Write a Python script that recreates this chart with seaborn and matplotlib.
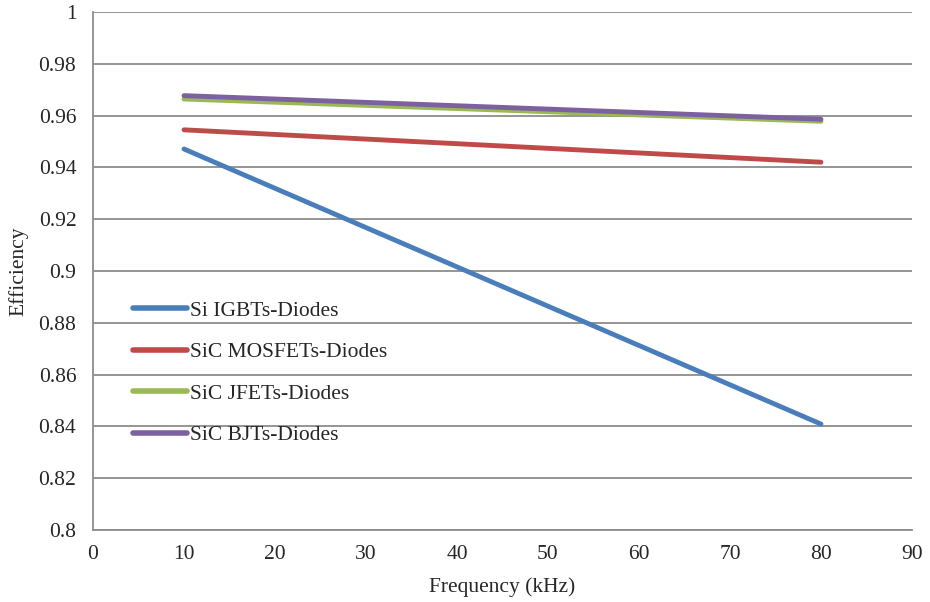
import pandas as pd
import matplotlib
matplotlib.use("Agg")
import matplotlib.pyplot as plt
import seaborn as sns

# data
freq = [10, 80]
si_igbt = [0.9471, 0.8409]
sic_mosfet = [0.9545, 0.9420]
sic_jfet = [0.9664, 0.9578]
sic_bjt = [0.9677, 0.9586]

series_names = ["Si IGBTs-Diodes", "SiC MOSFETs-Diodes", "SiC JFETs-Diodes", "SiC BJTs-Diodes"]
series_vals = [si_igbt, sic_mosfet, sic_jfet, sic_bjt]
colors = ["#4a7ebb", "#be4b48", "#98b954", "#7d60a0"]

rows = []
for name, vals in zip(series_names, series_vals):
    for f, v in zip(freq, vals):
        rows.append({"Frequency": f, "Efficiency": v, "Series": name})
df = pd.DataFrame(rows)

sns.set_style("white")
plt.rcParams["font.family"] = ["Liberation Serif", "DejaVu Serif"]
fs = 15.5

fig = plt.figure(figsize=(9.3, 6.02), dpi=100)
ax = fig.add_axes([0.1, 0.1196, 0.8806, 0.8605])

sns.lineplot(data=df, x="Frequency", y="Efficiency", hue="Series",
             hue_order=series_names, palette=colors, linewidth=3.5,
             solid_capstyle="round", ax=ax)

ax.set_xlim(0, 90)
ax.set_ylim(0.8, 1.0)
ax.set_xticks(range(0, 91, 10))
ax.set_yticks([0.8 + 0.02 * i for i in range(11)])
ax.set_yticklabels(["0.8", "0.82", "0.84", "0.86", "0.88", "0.9",
                    "0.92", "0.94", "0.96", "0.98", "1"])
ax.tick_params(axis="y", length=0, labelsize=fs, pad=12)
ax.tick_params(axis="x", length=0, labelsize=fs, pad=11)
ax.yaxis.grid(True, color="#8c8c8c", linewidth=1.3)
ax.xaxis.grid(False)
ax.set_axisbelow(True)

for side in ["top", "right"]:
    ax.spines[side].set_visible(False)
for side in ["left", "bottom"]:
    ax.spines[side].set_color("#8c8c8c")
    ax.spines[side].set_linewidth(1.3)

ax.set_xlabel("Frequency (kHz)", fontsize=fs, labelpad=9)
ax.set_ylabel("Efficiency", fontsize=fs, labelpad=7)

leg = ax.legend(loc="upper left", bbox_to_anchor=(0.049, 0.443), frameon=False,
                fontsize=fs, handlelength=2.5, handletextpad=0.12,
                labelspacing=1.0, borderpad=0, borderaxespad=0)
for line in leg.get_lines():
    line.set_linewidth(4)

fig.savefig("out.png", dpi=100)
plt.close(fig)
